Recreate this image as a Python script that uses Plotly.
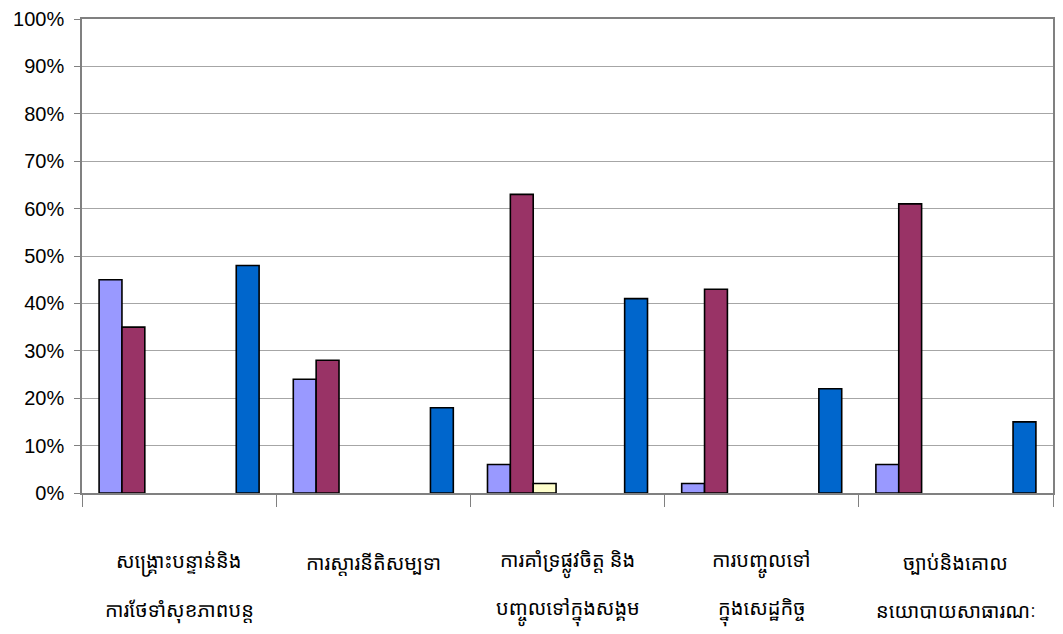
import plotly.graph_objects as go

# Program areas: each label is written on two lines
categories = [
    "សង្គ្រោះបន្ទាន់និង ការថែទាំសុខភាពបន្ត",
    "ការស្តារនីតិសម្បទា",
    "ការគាំទ្រផ្លូវចិត្ត និង បញ្ចូលទៅក្នុងសង្គម",
    "ការបញ្ចូលទៅ ក្នុងសេដ្ឋកិច្ច",
    "ច្បាប់និងគោល នយោបាយសាធារណៈ",
]
label_line_1 = [
    "សង្គ្រោះបន្ទាន់និង",
    "ការស្តារនីតិសម្បទា",
    "ការគាំទ្រផ្លូវចិត្ត និង",
    "ការបញ្ចូលទៅ",
    "ច្បាប់និងគោល",
]
label_line_2 = [
    "ការថែទាំសុខភាពបន្ត",
    "",
    "បញ្ចូលទៅក្នុងសង្គម",
    "ក្នុងសេដ្ឋកិច្ច",
    "នយោបាយសាធារណៈ",
]

# Seven series (percent); None = no bar drawn
series_1 = [45, 24, 6, 2, 6]
series_2 = [35, 28, 63, 43, 61]
series_3 = [None, None, 2, None, None]
series_4 = [None, None, None, None, None]
series_5 = [None, None, None, None, None]
series_6 = [None, None, None, None, None]
series_7 = [48, 18, 41, 22, 15]

series_values = [series_1, series_2, series_3, series_4, series_5, series_6, series_7]
series_colors = ["#9999FF", "#993366", "#FFFFCC", "#CCFFFF", "#660066", "#FF8080", "#0066CC"]

y_ticks = list(range(0, 101, 10))
y_tick_labels = [f"{v}%" for v in y_ticks]

khmer_font = dict(size=20, family="Noto Sans Khmer, Khmer OS, DejaVu Sans, sans-serif", color="#000000")

fig = go.Figure()
for i, (vals, col) in enumerate(zip(series_values, series_colors)):
    fig.add_trace(go.Bar(
        x=categories,
        y=vals,
        name=f"Series{i + 1}",
        marker=dict(color=col, line=dict(color="#000000", width=1.6)),
    ))

# Two-line category labels under the axis
for cat, l1, l2 in zip(categories, label_line_1, label_line_2):
    for text, ypos in ((l1, -0.146), (l2, -0.247)):
        if text:
            fig.add_annotation(
                x=cat, xref="x", y=ypos, yref="paper",
                text=text, showarrow=False,
                xanchor="center", yanchor="middle",
                font=khmer_font,
            )

fig.update_layout(
    width=1063,
    height=634,
    margin=dict(l=82, r=8, t=15, b=141),
    paper_bgcolor="white",
    plot_bgcolor="white",
    barmode="group",
    bargap=0.176,
    bargroupgap=0,
    showlegend=False,
    font=dict(family="Liberation Sans, Arial, sans-serif", color="#000000"),
)

fig.update_yaxes(
    range=[0, 100],
    tickvals=y_ticks,
    ticktext=y_tick_labels,
    tickfont=dict(size=20),
    ticklabelstandoff=6,
    showgrid=True,
    gridcolor="#A6A6A6",
    gridwidth=1,
    showline=True,
    linecolor="#808080",
    linewidth=1.5,
    mirror=True,
    ticks="outside",
    ticklen=6,
    tickcolor="#808080",
    zeroline=False,
)

fig.update_xaxes(
    type="category",
    tickson="boundaries",
    ticks="outside",
    ticklen=12,
    tickcolor="#808080",
    showline=True,
    linecolor="#808080",
    linewidth=1.5,
    mirror=True,
    showgrid=False,
    showticklabels=False,
)

fig.write_html("out.html")
